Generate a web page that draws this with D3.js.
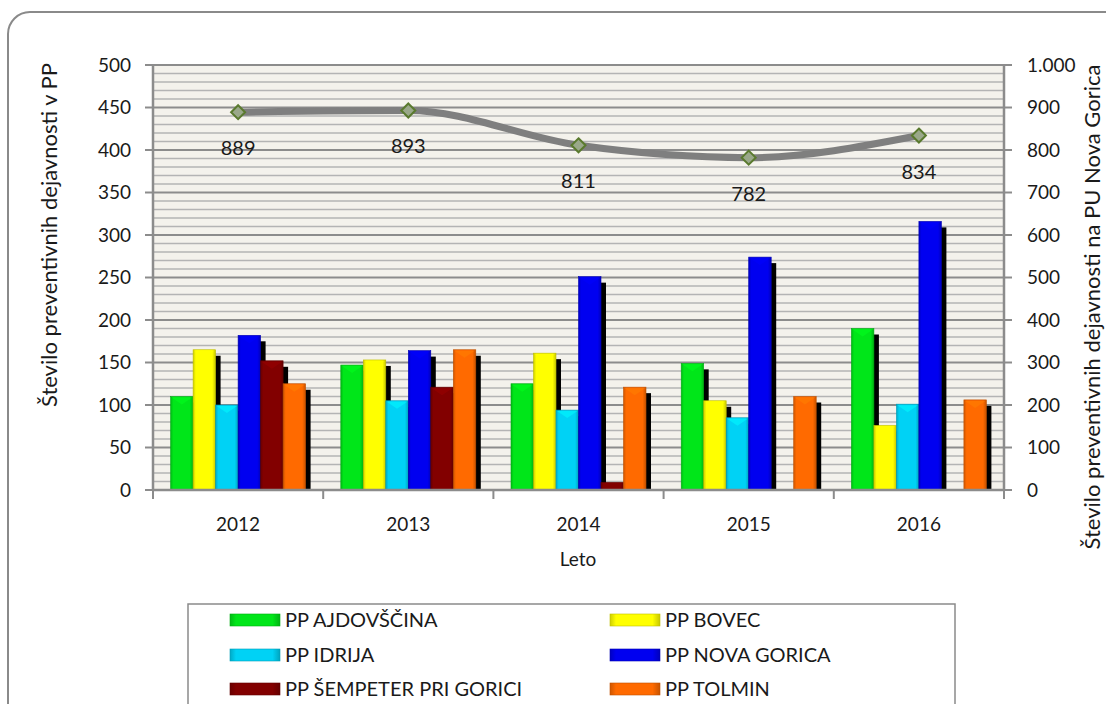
<!DOCTYPE html>
<html><head><meta charset="utf-8">
<script src="https://cdn.jsdelivr.net/npm/d3@7"></script>
<style>body{margin:0;background:#fff}svg{display:block}text{font-family:Lato,"Open Sans",sans-serif;fill:#1a1a1a}</style>
</head><body><svg id="c" width="1106" height="704"></svg>
<script>
const years = ["2012","2013","2014","2015","2016"];
const seriesNames = ["PP AJDOVŠČINA","PP BOVEC","PP IDRIJA","PP NOVA GORICA","PP ŠEMPETER PRI GORICI","PP TOLMIN"];
const ajdovscina = [110,147,125,149,190];
const bovec = [165,153,161,105,76];
const idrija = [100,105,94,85,101];
const novaGorica = [182,164,251,274,316];
const sempeter = [152,121,9,0,0];
const tolmin = [125,165,121,110,106];
const totalPU = [889,893,811,782,834];
const leftTicks = [0,50,100,150,200,250,300,350,400,450,500];
const rightTicks = [0,100,200,300,400,500,600,700,800,900,1000];
const colors = ["#00e619","#ffff00","#00d2f5","#0000f0","#820000","#ff6a00"];

const values = [ajdovscina,bovec,idrija,novaGorica,sempeter,tolmin];
const svg = d3.select("#c");
const defs = svg.append("defs");
colors.forEach((c,i)=>{
  const g = defs.append("linearGradient").attr("id","g"+i).attr("x1","0").attr("x2","1").attr("y1","0").attr("y2","0");
  const base = d3.color(c);
  g.append("stop").attr("offset","0").attr("stop-color",base.darker(0.6));
  g.append("stop").attr("offset","0.12").attr("stop-color",base);
  g.append("stop").attr("offset","0.85").attr("stop-color",base);
  g.append("stop").attr("offset","1").attr("stop-color",base.darker(0.7));
});

// frame
svg.append("rect").attr("x",8).attr("y",12).attr("width",1130).attr("height",730).attr("rx",22)
  .attr("fill","#fff").attr("stroke","#8a8a8a").attr("stroke-width",2);

const L=153, R=1004, T=65, B=490;
const x0 = d3.scaleBand().domain(years).range([L,R]);
const groupW = 135;
const x1 = d3.scaleBand().domain(d3.range(6)).range([0,groupW]);
const y = d3.scaleLinear().domain([0,500]).range([B,T]);
const y2 = d3.scaleLinear().domain([0,1000]).range([B,T]);

// plot bg
svg.append("rect").attr("x",L).attr("y",T).attr("width",R-L).attr("height",B-T).attr("fill","#f4f2ec");
// minor grid
svg.append("g").selectAll("line").data(d3.range(10,500,10).filter(v=>v%50!==0)).join("line")
  .attr("x1",L).attr("x2",R).attr("y1",d=>y(d)).attr("y2",d=>y(d))
  .attr("stroke","#b4b4b4").attr("stroke-width",1.6);
// major grid
svg.append("g").selectAll("line").data(leftTicks.slice(1)).join("line")
  .attr("x1",L).attr("x2",R).attr("y1",d=>y(d)).attr("y2",d=>y(d))
  .attr("stroke","#8c8c8c").attr("stroke-width",2);

// bars
const flat=[];
years.forEach((yr,j)=>values.forEach((arr,i)=>flat.push({yr,i,v:arr[j]})));
const bx = d=>x0(d.yr)+(x0.bandwidth()-groupW)/2+x1(d.i);
const bw = x1.bandwidth();
const vis = flat.filter(d=>d.v>0);
svg.append("g").selectAll("rect").data(vis).join("rect")
  .attr("x",d=>bx(d)+5).attr("y",d=>Math.min(y(d.v)+6,B)).attr("width",bw)
  .attr("height",d=>Math.max(0,B-y(d.v)-6)).attr("fill","#000");
const bars = svg.append("g");
bars.selectAll("rect").data(vis).join("rect")
  .attr("x",d=>bx(d)).attr("y",d=>y(d.v)).attr("width",bw).attr("height",d=>B-y(d.v))
  .attr("fill",d=>`url(#g${d.i})`).attr("stroke",d=>d3.color(colors[d.i]).darker(0.8)).attr("stroke-width",0.6);
// top bevel
bars.selectAll("path").data(vis.filter(d=>B-y(d.v)>12)).join("path")
  .attr("d",d=>{const x=bx(d),t=y(d.v);return `M${x+1},${t+1}L${x+bw-1},${t+1}L${x+bw/2},${t+8}Z`;})
  .attr("fill",d=>d3.color(colors[d.i]).brighter(0.5)).attr("opacity",0.55);

// axes
const axisG = svg.append("g");
axisG.append("line").attr("x1",L).attr("x2",L).attr("y1",T).attr("y2",B).attr("stroke","#8c8c8c").attr("stroke-width",2.5);
axisG.append("line").attr("x1",R).attr("x2",R).attr("y1",T).attr("y2",B).attr("stroke","#8c8c8c").attr("stroke-width",2.5);
axisG.append("line").attr("x1",L).attr("x2",R).attr("y1",B).attr("y2",B).attr("stroke","#8c8c8c").attr("stroke-width",2.5);
axisG.selectAll(".lt").data(leftTicks).join("line").attr("x1",L-8).attr("x2",L).attr("y1",d=>y(d)).attr("y2",d=>y(d)).attr("stroke","#8c8c8c").attr("stroke-width",2);
axisG.selectAll(".rt").data(rightTicks).join("line").attr("class","rt").attr("x1",R).attr("x2",R+8).attr("y1",d=>y2(d)).attr("y2",d=>y2(d)).attr("stroke","#8c8c8c").attr("stroke-width",2);
const bounds = years.map(yy=>x0(yy)).concat([R]);
axisG.selectAll(".xt").data(bounds).join("line").attr("class","xt").attr("x1",d=>d).attr("x2",d=>d).attr("y1",B).attr("y2",B+9).attr("stroke","#8c8c8c").attr("stroke-width",2);

const fmt = d3.formatLocale({decimal:",",thousands:".",grouping:[3],currency:["",""]}).format(",");
svg.append("g").selectAll("text").data(leftTicks).join("text")
  .attr("x",131).attr("y",d=>y(d)).attr("dy","0.35em").attr("text-anchor","end").attr("font-size",19).text(d=>d);
svg.append("g").selectAll("text").data(rightTicks).join("text")
  .attr("x",1027).attr("y",d=>y2(d)).attr("dy","0.35em").attr("text-anchor","start").attr("font-size",19).text(d=>fmt(d));
svg.append("g").selectAll("text").data(years).join("text")
  .attr("x",d=>x0(d)+x0.bandwidth()/2).attr("y",524).attr("dy","0.35em").attr("text-anchor","middle").attr("font-size",19).text(d=>d);
svg.append("text").attr("x",578).attr("y",559).attr("dy","0.35em").attr("text-anchor","middle").attr("font-size",19).text("Leto");
svg.append("text").attr("transform","translate(49,235) rotate(-90)").attr("dy","0.35em").attr("text-anchor","middle").attr("font-size",22).text("Število preventivnih dejavnosti v PP");
svg.append("text").attr("transform","translate(1092,307) rotate(-90)").attr("dy","0.35em").attr("text-anchor","middle").attr("font-size",22).text("Število preventivnih dejavnosti na PU Nova Gorica");

// line
const cx = d=>x0(d)+x0.bandwidth()/2;
const pts = years.map((yr,i)=>[cx(yr),y2(totalPU[i])]);
svg.append("path").attr("d",d3.line().curve(d3.curveMonotoneX)(pts))
  .attr("fill","none").attr("stroke","#7f7f7f").attr("stroke-width",7).attr("stroke-linecap","round");
svg.append("g").selectAll("path").data(pts).join("path")
  .attr("d",d=>`M${d[0]},${d[1]-7}L${d[0]+7},${d[1]}L${d[0]},${d[1]+7}L${d[0]-7},${d[1]}Z`)
  .attr("fill","#9aa88a").attr("stroke","#5a7a2e").attr("stroke-width",2);
svg.append("g").selectAll("text").data(years).join("text")
  .attr("x",d=>cx(d)).attr("y",(d,i)=>y2(totalPU[i])+36).attr("dy","0.35em").attr("text-anchor","middle").attr("font-size",20).text((d,i)=>totalPU[i]);

// legend
const lg = svg.append("g");
lg.append("rect").attr("x",188).attr("y",604).attr("width",767).attr("height",120).attr("fill","#fff").attr("stroke","#8a8a8a").attr("stroke-width",1.5);
const lx = [230,610], ly=[620,655,689];
const items = lg.selectAll("g").data(seriesNames).join("g")
  .attr("transform",(d,i)=>`translate(${lx[i%2]},${ly[Math.floor(i/2)]})`);
items.append("rect").attr("x",0).attr("y",-6).attr("width",50).attr("height",12)
  .attr("fill",(d,i)=>`url(#g${i})`).attr("stroke",(d,i)=>d3.color(colors[i]).darker(0.8)).attr("stroke-width",0.6);
items.append("text").attr("x",55).attr("y",0).attr("dy","0.35em").attr("font-size",20).text(d=>d);
</script></body></html>
